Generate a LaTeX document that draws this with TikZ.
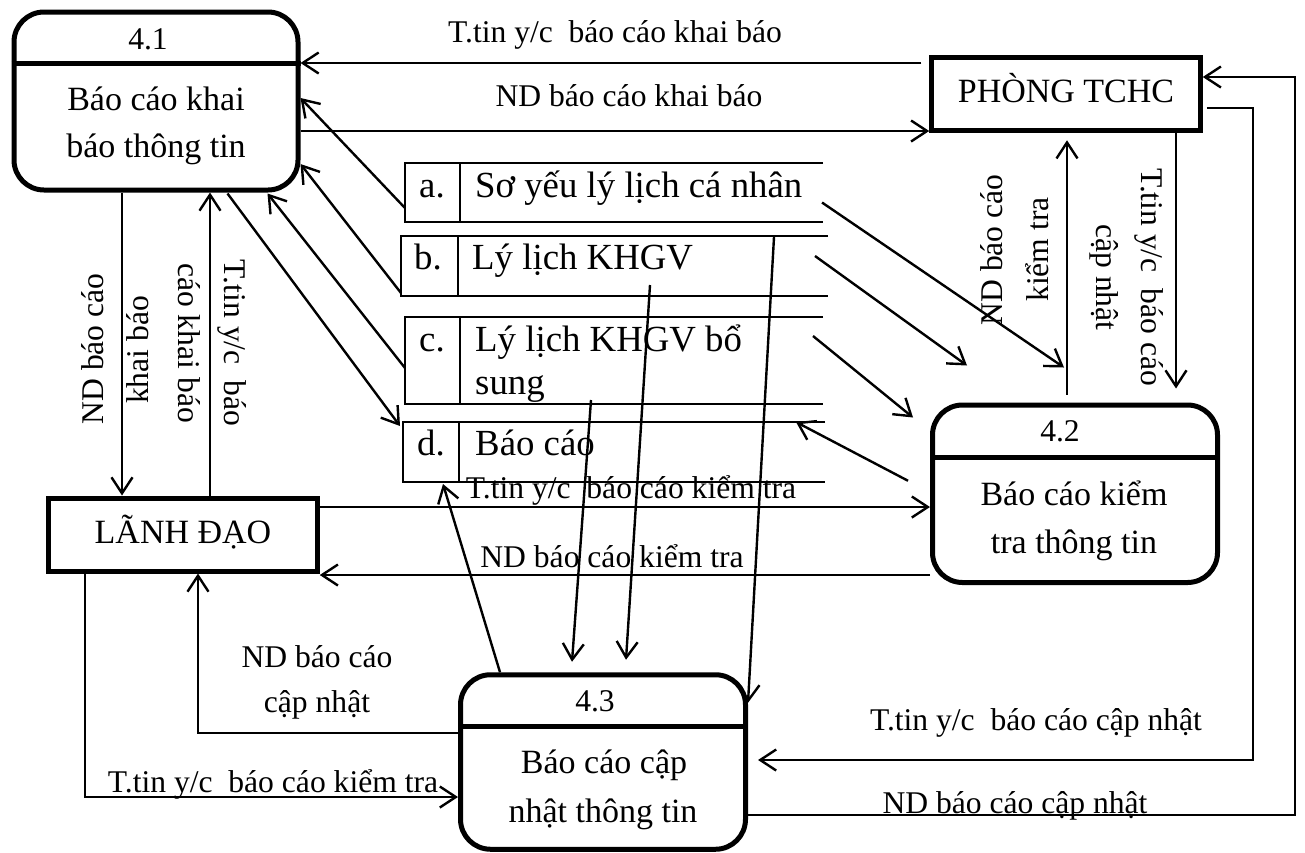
\documentclass[tikz,border=0pt]{standalone}
\usepackage{fontspec}
\setmainfont{Liberation Serif}
\usetikzlibrary{arrows.meta,calc}

\tikzset{
  proc/.style={draw, line width=5pt, rounded corners=30pt, inner sep=0pt},
  ent/.style={draw, line width=5pt, inner sep=0pt},
  slot/.style={inner sep=0pt, outer sep=0pt},
  wire/.style={line width=2.4pt},
  flow/.style={line width=2.4pt, -{Straight Barb[length=16pt,width=21pt]}},
  big/.style={font=\fontsize{34}{48}\selectfont, inner sep=0pt, anchor=base},
  small/.style={font=\fontsize{31.6}{46}\selectfont, inner sep=0pt, anchor=base},
  stxt/.style={font=\fontsize{36.8}{43}\selectfont, inner sep=0pt, anchor=base},
}

\begin{document}
\begin{tikzpicture}[x=1pt,y=-1pt]
\useasboundingbox (0,0) rectangle (1305,852);

% ---------- processes ----------
\node[proc, minimum width=284pt, minimum height=178pt] (p41) at (156,101) {};
\draw[line width=5pt] (p41.west |- 0,63) -- (p41.east |- 0,63);
\node[small] (n41) at (148,49) {4.1};
\node[big] (t41a) at (156,110) {Báo cáo khai};
\node[big] (t41b) at (156,157) {báo thông tin};

\node[proc, minimum width=285pt, minimum height=177.5pt] (p42) at (1075,493.75) {};
\draw[line width=5pt] (p42.west |- 0,457) -- (p42.east |- 0,457);
\node[small] (n42) at (1060,441) {4.2};
\node[big] (t42a) at (1074,505) {Báo cáo kiểm};
\node[big] (t42b) at (1074,553) {tra thông tin};

\node[proc, minimum width=285pt, minimum height=174.5pt] (p43) at (603,762) {};
\draw[line width=5pt] (p43.west |- 0,726) -- (p43.east |- 0,726);
\node[small] (n43) at (595,711) {4.3};
\node[big] (t43a) at (604,773) {Báo cáo cập};
\node[big] (t43b) at (603,822) {nhật thông tin};

% ---------- external entities ----------
\node[ent, minimum width=268.5pt, minimum height=73.5pt] (tchc) at (1066,94) {};
\node[big] (ttchc) at (1066,102) {PHÒNG TCHC};
\node[ent, minimum width=268.5pt, minimum height=73pt] (ld) at (183,534.5) {};
\node[big] (tld) at (183,543) {LÃNH ĐẠO};

% ---------- data stores (open on the right) ----------
\node[slot, minimum width=418pt, minimum height=59pt] (sa) at (614,192.5) {};
\draw[wire] (sa.north east) -- (sa.north west) -- (sa.south west) -- (sa.south east);
\draw[wire] (sa.north -| 460,0) -- (sa.south -| 460,0);
\node[stxt] (ka) at (432,197) {a.};
\node[stxt, anchor=base west] (va) at (475,197) {Sơ yếu lý lịch cá nhân};

\node[slot, minimum width=427pt, minimum height=60pt] (sb) at (614.5,266) {};
\draw[wire] (sb.north east) -- (sb.north west) -- (sb.south west) -- (sb.south east);
\draw[wire] (sb.north -| 458,0) -- (sb.south -| 458,0);
\node[stxt] (kb) at (428,269) {b.};
\node[stxt, anchor=base west] (vb) at (472,269) {Lý lịch KHGV};

\node[slot, minimum width=418pt, minimum height=87pt] (sc) at (614,360.5) {};
\draw[wire] (sc.north east) -- (sc.north west) -- (sc.south west) -- (sc.south east);
\draw[wire] (sc.north -| 460,0) -- (sc.south -| 460,0);
\node[stxt] (kc) at (432,351) {c.};
\node[stxt, anchor=base west] (vc1) at (475,351) {Lý lịch KHGV bổ};
\node[stxt, anchor=base west] (vc2) at (475,394) {sung};

\node[slot, minimum width=422pt, minimum height=60pt] (sd) at (614,452) {};
\draw[wire] (sd.north east) -- (sd.north west) -- (sd.south west) -- (sd.south east);
\draw[wire] (sd.north -| 459,0) -- (sd.south -| 459,0);
\node[stxt] (kd) at (431,455) {d.};
\node[stxt, anchor=base west] (vd) at (475,455) {Báo cáo};

% ---------- flows between 4.1 and PHÒNG TCHC ----------
\draw[flow, shorten <=8pt] (tchc.west |- 0,63) -- (p41.east |- 0,63);
\node[small] (l1) at (615,42) {T.tin y/c~~báo cáo khai báo};
\draw[flow] (p41.east |- 0,131) -- (tchc.west |- 0,131);
\node[small] (l2) at (629,106) {ND báo cáo khai báo};

% ---------- stores and 4.1 ----------
\draw[flow] (sa.west |- 0,208) -- (p41.east |- 0,98);
\draw[flow] (sb.west |- 0,293) -- (p41.east |- 0,164);
\draw[flow] (sc.west |- 0,368) -- ($(p41.south east)+(-33,1)$);
\draw[flow] ($(p41.south east)+(-73,1)$) -- ($(sd.north west)+(-3,4)$);

% ---------- 4.1 and LÃNH ĐẠO ----------
\draw[flow] (p41.south -| 122,0) -- (ld.north -| 122,0);
\node[small, rotate=90] (l7a) at (103,349) {ND báo cáo};
\node[small, rotate=90] (l7b) at (148,350) {khai báo};
\draw[flow] (ld.north -| 210,0) -- (p41.south -| 210,0);
\node[small, rotate=-90] (l8a) at (224,343) {T.tin y/c~~báo};
\node[small, rotate=-90] (l8b) at (178,343) {cáo khai báo};

% ---------- LÃNH ĐẠO and 4.2 ----------
\draw[flow] (ld.east |- 0,507) -- (p42.west |- 0,507);
\node[small] (l9) at (631,498) {T.tin y/c~~báo cáo kiểm tra};
\draw[flow] (p42.west |- 0,575) -- (ld.east |- 0,575);
\node[small] (l10) at (612,567) {ND báo cáo kiểm tra};

% ---------- 4.2 and PHÒNG TCHC ----------
\draw[flow, shorten <=8pt, shorten >=7pt] (p42.north -| 1067,0) -- (tchc.south -| 1067,0);
\node[small, rotate=90] (l11a) at (1002,250) {ND báo cáo};
\node[small, rotate=90] (l11b) at (1048,249.5) {kiểm tra};
\draw[flow, shorten >=14pt] (tchc.south -| 1176,0) -- (p42.north -| 1176,0);
\node[small, rotate=-90] (l12a) at (1141,277) {T.tin y/c~~báo cáo};
\node[small, rotate=-90] (l12b) at (1096,277.5) {cập nhật};

% ---------- stores and 4.2 ----------
\draw[flow] ($(sa.east)+(-1,10)$) -- ($(p42.north)+(-11,-35)$);
\draw[flow] ($(sb.east)+(-13,-10)$) -- ($(p42.north)+(-108,-37)$);
\draw[flow] ($(sc.east)+(-10,-24.5)$) -- ($(p42.north west)+(-17,15)$);
\draw[flow] ($(p42.west)+(-22,-13)$) -- ($(sd.east)+(-29,-30)$);

% ---------- stores and 4.3 ----------
\draw[flow] ($(sc.south)+(-23,-4)$) -- ($(p43.north)+(-31,-10.5)$);
\draw[flow] ($(sb.south)+(35.5,-11)$) -- ($(p43.north)+(23,-12.5)$);
\draw[flow] ($(sb.north)+(159.5,1)$) -- ($(p43.north east)+(0,30.5)$);
\draw[flow] ($(p43.north west)+(42,0)$) -- ($(sd.south west)+(40,2)$);

% ---------- 4.3 and LÃNH ĐẠO ----------
\draw[flow] (p43.west |- 0,733) -| (ld.south -| 198,0);
\node[small] (l21a) at (317,667) {ND báo cáo};
\node[small] (l21b) at (317,712) {cập nhật};
\draw[flow] (ld.south -| 85,0) |- (p43.west |- 0,797);
\node[small] (l22) at (273,792) {T.tin y/c~~báo cáo kiểm tra};

% ---------- 4.3 and PHÒNG TCHC ----------
\coordinate (r23) at (1253,108);
\draw[flow, shorten <=4pt, shorten >=10pt] (tchc.east |- r23) -- (r23) |- (p43.east |- 0,760);
\node[small] (l23) at (1036,730) {T.tin y/c~~báo cáo cập nhật};
\coordinate (r24) at (1295,815);
\draw[flow] (p43.east |- r24) -- (r24) |- (tchc.east |- 0,77);
\node[small] (l24) at (1015,813) {ND báo cáo cập nhật};

\end{tikzpicture}
\end{document}
